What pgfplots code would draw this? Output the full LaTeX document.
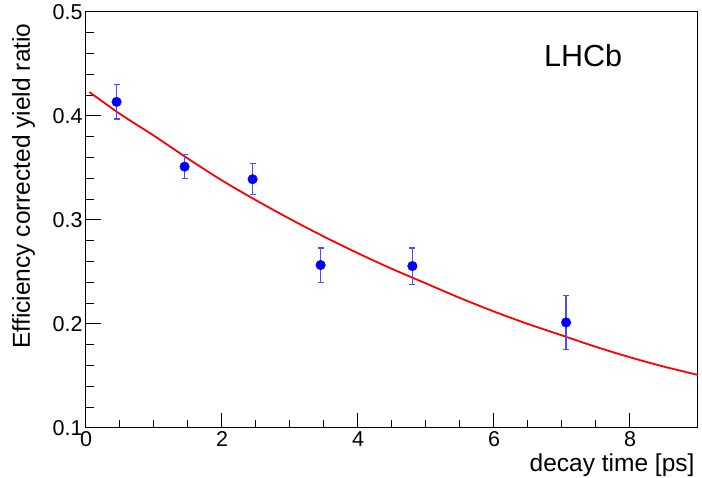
\documentclass[border=0pt]{standalone}
\usepackage{pgfplots}
\pgfplotsset{compat=1.18}
\usepackage{fontspec}
\setmainfont{Liberation Sans}

\begin{document}
\begin{tikzpicture}
\useasboundingbox (-86pt,-50pt) rectangle (616pt,428pt);
\begin{axis}[
    at={(0,0)}, anchor=south west,
    scale only axis,
    width=612pt, height=416pt,
    xmin=0, xmax=9,
    ymin=0.1, ymax=0.5,
    xtick={0,2,4,6,8},
    ytick={0.1,0.2,0.3,0.4,0.5},
    minor x tick num=3,
    minor y tick num=4,
    tick align=inside,
    xtick pos=bottom, ytick pos=left,
    major tick length=15pt,
    minor tick length=8pt,
    tick style={black, line width=1pt},
    axis line style={line width=1pt},
    /pgf/number format/assume math mode=true,
    yticklabel style={/pgf/number format/fixed,
        /pgf/number format/fixed zerofill,
        /pgf/number format/precision=1},
    tick label style={font=\fontsize{21.5}{24}\selectfont},
    label style={font=\fontsize{24.5}{28}\selectfont},
    xlabel={decay time [ps]},
    xlabel style={at={(rel axis cs:1,0)}, anchor=base east, yshift=-44pt},
    ylabel={Efficiency corrected yield ratio},
    ylabel style={at={(rel axis cs:-0.0915,0.981)}, anchor=base east},
]
% fit
\addplot[red, line width=1.8pt, smooth] coordinates {
(0.05,0.423) (0.5,0.402) (1.0,0.381) (1.5,0.359) (2.0,0.338)
(2.5,0.319) (3.0,0.301) (3.5,0.284) (4.0,0.268) (4.5,0.253)
(5.0,0.239) (5.5,0.225) (6.0,0.212) (6.5,0.200) (7.0,0.189)
(7.5,0.178) (8.0,0.168) (8.5,0.159) (9.0,0.151)};
% data
\addplot[blue, mark=*, only marks, mark size=4.8pt,
    error bars/.cd, y dir=both, y explicit,
    error bar style={blue!70, line width=1.3pt},
    error mark options={rotate=90, blue!70, mark size=3pt, line width=1.3pt}]
coordinates {
(0.45,0.4136) +- (0,0.0164)
(1.45,0.3513) +- (0,0.0116)
(2.45,0.3392) +- (0,0.0149)
(3.45,0.2567) +- (0,0.0165)
(4.80,0.2557) +- (0,0.0175)
(7.06,0.2015) +- (0,0.0262)};
\node[anchor=base west, inner sep=0pt, font=\fontsize{30.5}{34}\selectfont] at (axis cs:6.735,0.4476) {LHCb};
\end{axis}
\end{tikzpicture}
\end{document}
